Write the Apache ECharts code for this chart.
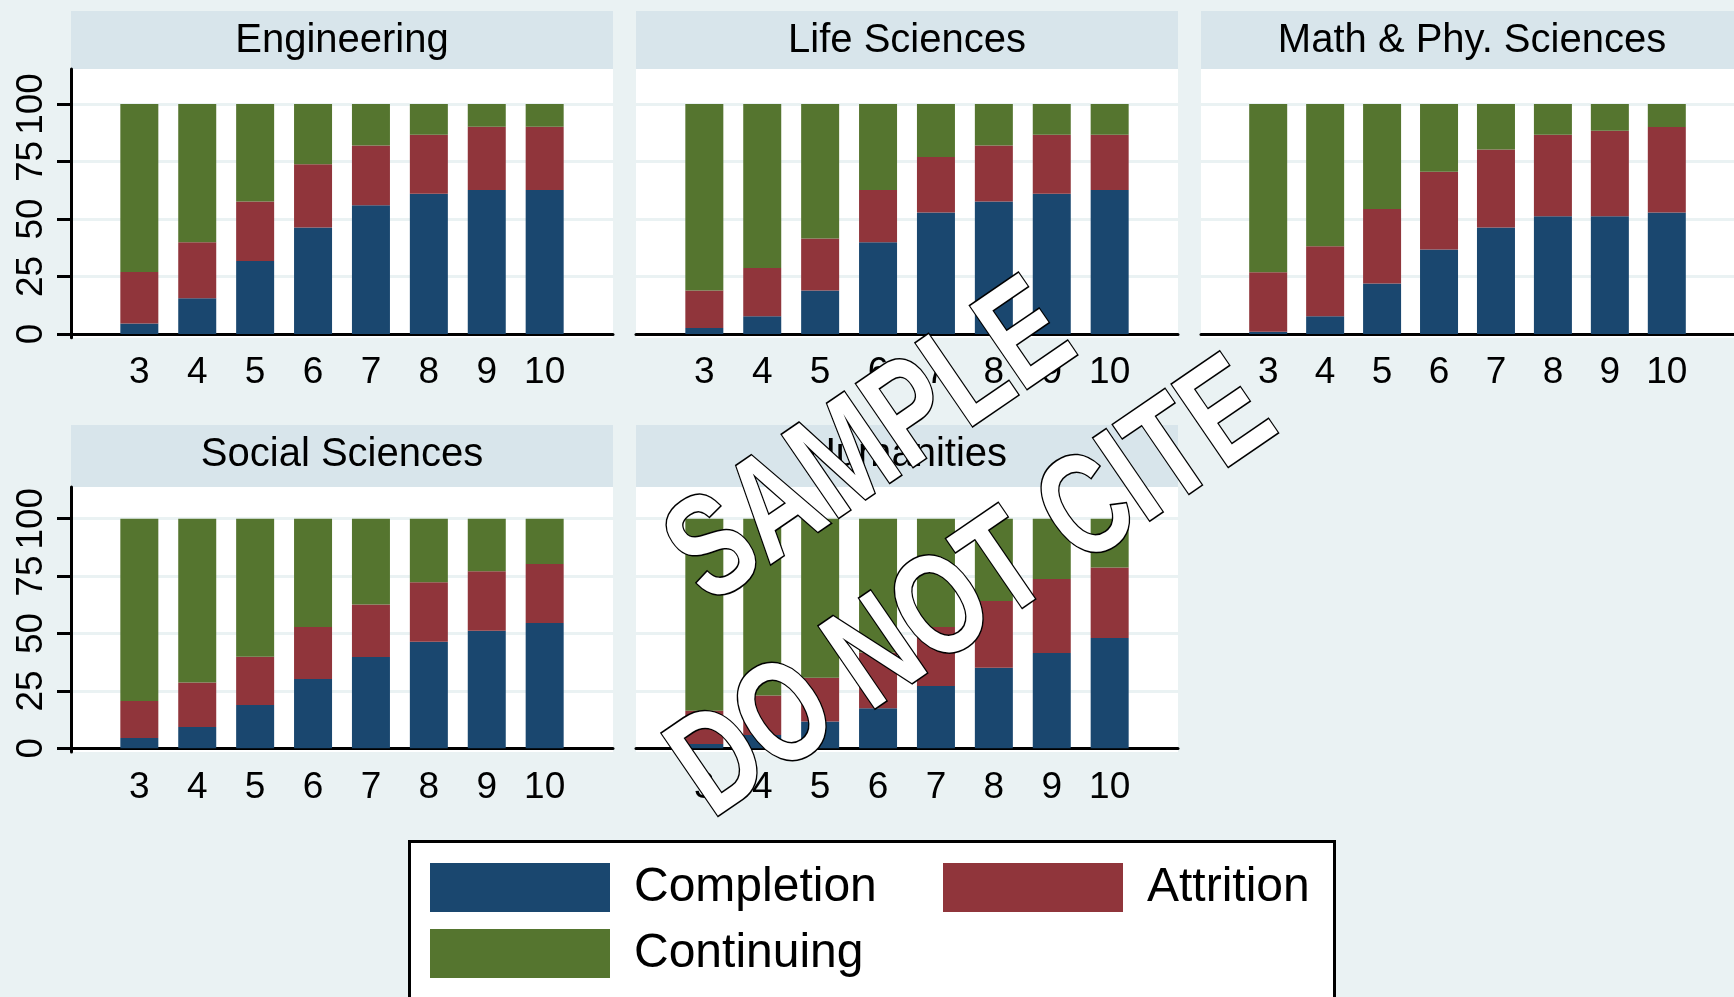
<!DOCTYPE html>
<html>
<head>
<meta charset="utf-8">
<title>Completion, attrition and continuing by field</title>
<script src="https://cdn.jsdelivr.net/npm/echarts@6/dist/echarts.min.js"></script>
<style>
html, body { margin: 0; padding: 0; background: #eaf2f3; }
#main { width: 1734px; height: 997px; }
</style>
</head>
<body>
<div id="main"></div>
<script>
// years in program (x categories) and y ticks
var terms = [3, 4, 5, 6, 7, 8, 9, 10];
var yTicks = [0, 25, 50, 75, 100];
var fields = ['Engineering', 'Life Sciences', 'Math & Phy. Sciences', 'Social Sciences', 'Humanities'];
var seriesNames = ['Completion', 'Attrition', 'Continuing'];

// shares in percent
var engCompletion = [4.6, 15.6, 31.7, 46.3, 56.0, 61.0, 62.6, 62.6];
var engAttrition  = [22.4, 24.3, 25.9, 27.5, 26.0, 25.6, 27.5, 27.5];
var engContinuing = [73.0, 60.1, 42.4, 26.2, 18.0, 13.4, 9.9, 9.9];

var lifeCompletion = [2.6, 7.7, 18.9, 39.9, 52.8, 57.6, 61.0, 62.6];
var lifeAttrition  = [16.3, 21.0, 22.6, 22.7, 24.2, 24.4, 25.6, 24.0];
var lifeContinuing = [81.1, 71.3, 58.5, 37.4, 23.0, 18.0, 13.4, 13.4];

var mathCompletion = [1.0, 7.7, 22.0, 36.7, 46.3, 51.2, 51.2, 52.8];
var mathAttrition  = [25.8, 30.4, 32.3, 33.8, 33.9, 35.4, 37.2, 37.2];
var mathContinuing = [73.2, 61.9, 45.7, 29.5, 19.8, 13.4, 11.6, 10.0];

var socCompletion = [4.5, 9.3, 18.9, 30.2, 39.8, 46.4, 51.2, 54.6];
var socAttrition  = [16.1, 19.4, 21.0, 22.6, 22.8, 25.9, 25.9, 25.7];
var socContinuing = [79.4, 71.3, 60.1, 47.2, 37.4, 27.7, 22.9, 19.7];

var humCompletion = [1.9, 5.8, 11.7, 17.4, 27.1, 35.1, 41.5, 48.0];
var humAttrition  = [14.5, 17.2, 19.0, 24.3, 25.7, 29.1, 32.2, 30.7];
var humContinuing = [83.6, 77.0, 69.3, 58.3, 47.2, 35.8, 26.3, 21.3];

var panelData = [
  [engCompletion, engAttrition, engContinuing],
  [lifeCompletion, lifeAttrition, lifeContinuing],
  [mathCompletion, mathAttrition, mathContinuing],
  [socCompletion, socAttrition, socContinuing],
  [humCompletion, humAttrition, humContinuing]
];

var colors = ['#1a476f', '#90353b', '#55752f'];
var font = '"Liberation Sans", Arial, sans-serif';

// panel layout: column lefts, row header/plot positions
var colLeft = [71, 636, 1201];
var panelW = 542;
var rows = [
  { headTop: 11, headBottom: 69, max: 115.2, bottom: 337.7 },
  { headTop: 425, headBottom: 487, max: 113.8, bottom: 752 }
];

var grids = [], xAxes = [], yAxes = [], series = [], titles = [], graphics = [];

fields.forEach(function (field, i) {
  var row = rows[i < 3 ? 0 : 1];
  var col = i % 3;
  var left = colLeft[col];
  var first = col === 0;

  grids.push({
    left: left, top: row.headBottom, width: panelW, height: row.bottom - row.headBottom,
    show: true, backgroundColor: '#ffffff', borderWidth: 0
  });

  xAxes.push({
    gridIndex: i, type: 'value', min: 1.82, max: 11.18,
    axisLine: { onZero: true, lineStyle: { color: '#000', width: 3 } },
    axisTick: { show: false },
    splitLine: { show: false },
    axisLabel: { customValues: terms, color: '#000', fontSize: 37, fontFamily: font, margin: 17 }
  });

  yAxes.push({
    gridIndex: i, type: 'value', min: -1.6, max: row.max,
    axisLine: { show: first, onZero: false, lineStyle: { color: '#000', width: 3 } },
    axisTick: { show: first, length: 14, customValues: yTicks, lineStyle: { color: '#000', width: 3 } },
    axisLabel: { show: first, customValues: yTicks, rotate: 90, color: '#000', fontSize: 37, fontFamily: font, margin: 21 },
    splitLine: { show: true, lineStyle: { color: '#eaf2f3', width: 3 } }
  });

  seriesNames.forEach(function (name, k) {
    series.push({
      name: name, type: 'bar', stack: 'p' + i,
      xAxisIndex: i, yAxisIndex: i,
      barWidth: 38,
      itemStyle: { color: colors[k] },
      // value first so the stack runs on y
      encode: { x: 1, y: 0 },
      data: terms.map(function (t, j) { return [panelData[i][k][j], t]; })
    });
  });

  // header band with field name
  graphics.push({
    type: 'rect', z: 0,
    shape: { x: left, y: row.headTop, width: panelW, height: row.headBottom - row.headTop },
    style: { fill: '#d8e5eb' }
  });
  titles.push({
    text: field, left: left + panelW / 2, top: (row.headTop + row.headBottom) / 2 - 19 - (i < 3 ? 0 : 2),
    textAlign: 'center', padding: 0,
    textStyle: { fontSize: 40, fontWeight: 'normal', color: '#000', fontFamily: font }
  });
});

// legend frame
graphics.push({
  type: 'rect', z: 1,
  shape: { x: 409.5, y: 841.5, width: 925, height: 200 },
  style: { fill: '#fff', stroke: '#000', lineWidth: 3 }
});

// watermark
graphics.push({
  type: 'text', z: 100, x: 872, y: 446, rotation: 0.60, scaleY: 1.35,
  style: { text: 'SAMPLE', font: 'bold 108px "Liberation Sans", Arial', fill: '#fff', stroke: '#000', lineWidth: 2.4, textAlign: 'center', textVerticalAlign: 'middle' }
});
graphics.push({
  type: 'text', z: 100, x: 974, y: 592, rotation: 0.60, scaleY: 1.35,
  style: { text: 'DO NOT CITE', font: 'bold 107px "Liberation Sans", Arial', fill: '#fff', stroke: '#000', lineWidth: 2.4, textAlign: 'center', textVerticalAlign: 'middle' }
});

var legendBase = {
  padding: 0, itemWidth: 180, itemHeight: 49, itemGap: 17, icon: 'rect',
  textStyle: { fontSize: 48, color: '#000', padding: [4, 0, 0, 19], fontFamily: font }
};

var chart = echarts.init(document.getElementById('main'));
chart.setOption({
  backgroundColor: '#eaf2f3',
  animation: false,
  title: titles,
  grid: grids,
  xAxis: xAxes,
  yAxis: yAxes,
  legend: [
    Object.assign({ left: 430, top: 863, orient: 'vertical', data: ['Completion', 'Continuing'] }, legendBase),
    Object.assign({ left: 943, top: 863, orient: 'vertical', data: ['Attrition'] }, legendBase)
  ],
  graphic: graphics,
  series: series
});
</script>
</body>
</html>
